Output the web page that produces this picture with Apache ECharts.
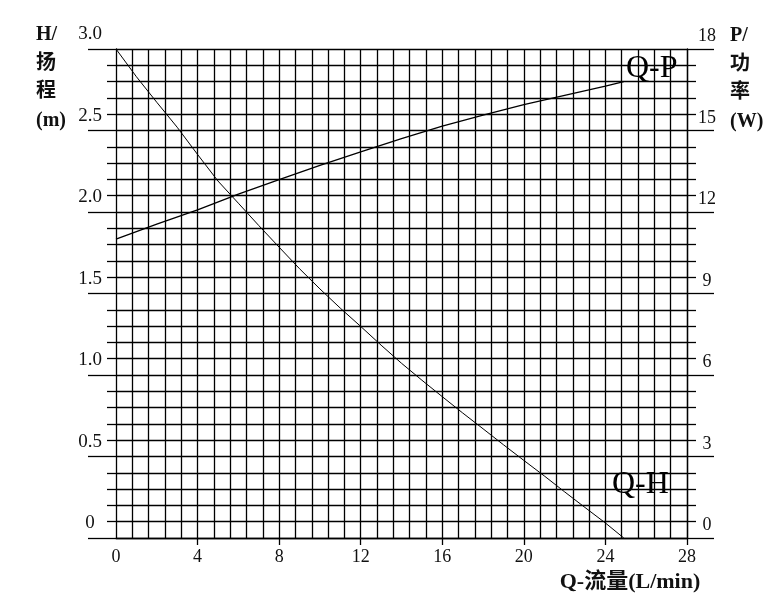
<!DOCTYPE html>
<html>
<head>
<meta charset="utf-8">
<script src="https://cdn.jsdelivr.net/npm/echarts@6/dist/echarts.min.js"></script>
<style>html,body{margin:0;padding:0;background:#fff}#c{width:779px;height:599px}</style>
</head>
<body>
<div id="c"></div>
<script>
// Flow (L/min) sample points for each curve
var qH = [0, 1, 2, 3, 4, 5, 6, 7, 8, 9, 10, 11, 12, 13, 14, 15, 16, 17, 18, 19, 20, 21, 22, 23, 24, 24.9];
// Head H (m)
var hVals = [3.0, 2.83, 2.673, 2.52, 2.353, 2.19, 2.054, 1.917, 1.784, 1.652, 1.528, 1.41, 1.298, 1.183, 1.072, 0.968, 0.867, 0.767, 0.670, 0.572, 0.476, 0.381, 0.283, 0.187, 0.092, 0];
var qP = [0, 2, 4, 6, 8, 10, 12, 14, 16, 18, 20, 22, 24, 24.9];
// Power P (W)
var pVals = [11.0, 11.55, 12.08, 12.66, 13.19, 13.72, 14.21, 14.7, 15.16, 15.57, 15.95, 16.29, 16.63, 16.8];

// Tick labels
var qTickLabels = ['0', '4', '8', '12', '16', '20', '24', '28'];
var hTickLabels = ['0', '0.5', '1.0', '1.5', '2.0', '2.5', '3.0'];
var pTickLabels = ['0', '3', '6', '9', '12', '15', '18'];

var hData = qH.map(function (q, i) { return [q, hVals[i]]; });
var pData = qP.map(function (q, i) { return [q, pVals[i]]; });

var LW = 1.3;
var lineCol = '#000';
var txtCol = '#111';
var serif = 'Liberation Serif';

var chart = echarts.init(document.getElementById('c'), null, {renderer: 'canvas'});
chart.setOption({
  animation: false,
  backgroundColor: '#fff',
  grid: {left: 116, top: 49, width: 571, height: 489, containLabel: false},
  xAxis: [{
    type: 'value', min: 0, max: 28, interval: 4, position: 'bottom',
    axisLine: {show: true, lineStyle: {color: lineCol, width: LW}},
    axisTick: {show: true, length: 7, customValues: [4, 8, 12, 16, 20, 24, 28], lineStyle: {color: lineCol, width: LW}},
    minorTick: {show: false, splitNumber: 5},
    splitLine: {show: true, lineStyle: {color: lineCol, width: LW}},
    minorSplitLine: {show: true, lineStyle: {color: lineCol, width: LW}},
    axisLabel: {
      margin: 10, fontSize: 18, fontFamily: serif, color: txtCol,
      formatter: function (v) { return qTickLabels[Math.round(v / 4)]; }
    }
  }],
  yAxis: [{
    type: 'value', min: 0, max: 3, interval: 0.5, position: 'left',
    axisLine: {show: true, lineStyle: {color: lineCol, width: LW}},
    axisTick: {show: true, length: 28, lineStyle: {color: lineCol, width: LW}},
    minorTick: {show: true, splitNumber: 5, length: 9, lineStyle: {color: lineCol, width: LW}},
    splitLine: {show: true, lineStyle: {color: lineCol, width: LW}},
    minorSplitLine: {show: true, lineStyle: {color: lineCol, width: LW}},
    axisLabel: {
      margin: 26, align: 'center', verticalAlign: 'bottom', lineHeight: 29,
      fontSize: 19, fontFamily: serif, color: txtCol,
      formatter: function (v) { return hTickLabels[Math.round(v / 0.5)]; }
    }
  }, {
    type: 'value', min: 0, max: 18, interval: 3, position: 'right',
    axisLine: {show: true, lineStyle: {color: lineCol, width: LW}},
    axisTick: {show: true, length: 27, lineStyle: {color: lineCol, width: LW}},
    minorTick: {show: true, splitNumber: 5, length: 9, lineStyle: {color: lineCol, width: LW}},
    splitLine: {show: false},
    minorSplitLine: {show: false},
    axisLabel: {
      margin: 20, align: 'center', verticalAlign: 'bottom', lineHeight: 25,
      fontSize: 18, fontFamily: serif, color: txtCol,
      formatter: function (v) { return pTickLabels[Math.round(v / 3)]; }
    }
  }],
  series: [{
    name: 'Q-H', type: 'line', xAxisIndex: 0, yAxisIndex: 0,
    data: hData, showSymbol: false, smooth: false,
    lineStyle: {color: '#000', width: 1}
  }, {
    name: 'Q-P', type: 'line', xAxisIndex: 0, yAxisIndex: 1,
    data: pData, showSymbol: false, smooth: false,
    lineStyle: {color: '#000', width: 1.3}
  }],
  graphic: [{
    type: 'text', left: 36, top: 21,
    style: {text: 'H/\n扬\n程\n(m)', font: 'bold 20px "Liberation Serif", "Noto Sans CJK SC"', lineHeight: 28.5, fill: txtCol, textAlign: 'left'}
  }, {
    type: 'text', left: 730, top: 22,
    style: {text: 'P/\n功\n率\n(W)', font: 'bold 20px "Liberation Serif", "Noto Sans CJK SC"', lineHeight: 28.5, fill: txtCol, textAlign: 'left'}
  }, {
    type: 'text', x: 630, y: 582,
    style: {text: 'Q-流量(L/min)', font: 'bold 22px "Liberation Serif", "Noto Sans CJK SC"', fill: txtCol, textAlign: 'center', textVerticalAlign: 'middle'}
  }, {
    type: 'text', x: 626, y: 69,
    style: {text: 'Q-P', font: '32px "Liberation Serif"', fill: '#000', textAlign: 'left', textVerticalAlign: 'middle'}
  }, {
    type: 'text', x: 612, y: 485,
    style: {text: 'Q-H', font: '32px "Liberation Serif"', fill: '#000', textAlign: 'left', textVerticalAlign: 'middle'}
  }]
});
</script>
</body>
</html>
